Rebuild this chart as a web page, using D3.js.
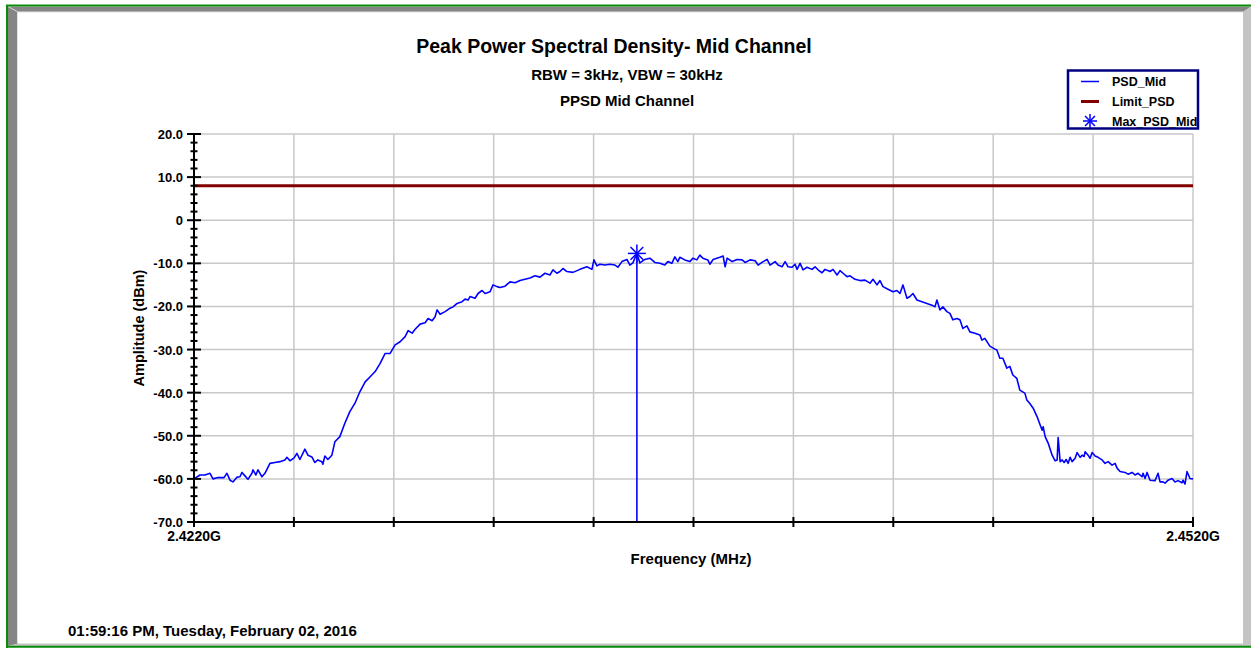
<!DOCTYPE html>
<html><head><meta charset="utf-8">
<script src="https://cdn.jsdelivr.net/npm/d3@7"></script>
<style>
body{margin:0;background:#fff;overflow:hidden;}
svg{display:block;}
text{font-family:"Liberation Sans",Arial,sans-serif;font-weight:bold;fill:#000;}
</style>
</head><body>
<svg id="chart" width="1251" height="648"></svg>
<script>
// ---------- DATA ----------
const chartTitle = "Peak Power Spectral Density- Mid Channel";
const subTitle1 = "RBW = 3kHz, VBW = 30kHz";
const subTitle2 = "PPSD Mid Channel";
const xAxisTitle = "Frequency (MHz)";
const yAxisTitle = "Amplitude (dBm)";
const timestamp = "01:59:16 PM, Tuesday, February 02, 2016";

const freqMHz = [
2422.00,2422.18,2422.33,2422.48,2422.57,2422.72,2422.90,2422.99,2423.08,2423.17,
2423.29,2423.38,2423.44,2423.53,2423.62,2423.74,2423.77,2423.86,2423.92,2424.04,
2424.13,2424.28,2424.43,2424.58,2424.73,2424.79,2424.88,2425.00,2425.09,2425.18,
2425.33,2425.42,2425.54,2425.63,2425.72,2425.84,2425.87,2425.93,2426.02,2426.14,
2426.23,2426.38,2426.53,2426.68,2426.83,2426.98,2427.14,2427.29,2427.44,2427.59,
2427.74,2427.89,2428.04,2428.19,2428.34,2428.43,2428.55,2428.64,2428.79,2428.94,
2429.03,2429.15,2429.24,2429.30,2429.39,2429.54,2429.69,2429.78,2429.90,2430.05,
2430.14,2430.23,2430.29,2430.44,2430.53,2430.65,2430.74,2430.89,2430.98,2431.10,
2431.19,2431.34,2431.49,2431.64,2431.79,2431.94,2432.09,2432.24,2432.39,2432.54,
2432.69,2432.78,2432.90,2432.99,2433.08,2433.20,2433.38,2433.59,2433.80,2433.95,
2434.01,2434.10,2434.19,2434.34,2434.49,2434.64,2434.73,2434.85,2435.00,2435.09,
2435.18,2435.30,2435.39,2435.54,2435.69,2435.84,2435.99,2436.14,2436.23,2436.35,
2436.44,2436.53,2436.59,2436.74,2436.89,2436.98,2437.10,2437.19,2437.28,2437.43,
2437.49,2437.59,2437.79,2437.89,2437.95,2438.01,2438.16,2438.31,2438.46,2438.55,
2438.70,2438.85,2438.94,2439.09,2439.21,2439.30,2439.45,2439.54,2439.66,2439.75,
2439.84,2439.96,2440.05,2440.11,2440.20,2440.29,2440.41,2440.56,2440.65,2440.74,
2440.86,2440.95,2441.10,2441.19,2441.31,2441.40,2441.49,2441.61,2441.70,2441.85,
2442.00,2442.15,2442.30,2442.39,2442.51,2442.60,2442.69,2442.84,2442.99,2443.11,
2443.20,2443.29,2443.41,2443.50,2443.59,2443.71,2443.86,2444.01,2444.16,2444.25,
2444.31,2444.40,2444.49,2444.61,2444.70,2444.79,2444.91,2445.00,2445.09,2445.21,
2445.30,2445.45,2445.60,2445.66,2445.75,2445.90,2446.05,2446.11,2446.20,2446.29,
2446.41,2446.50,2446.59,2446.71,2446.80,2446.95,2447.01,2447.10,2447.20,2447.32,
2447.41,2447.47,2447.50,2447.56,2447.65,2447.77,2447.86,2447.92,2447.95,2448.01,
2448.07,2448.13,2448.19,2448.25,2448.31,2448.37,2448.46,2448.52,2448.61,2448.67,
2448.73,2448.76,2448.85,2448.91,2448.97,2449.06,2449.15,2449.27,2449.36,2449.45,
2449.57,2449.66,2449.72,2449.81,2449.96,2450.05,2450.17,2450.26,2450.35,2450.47,
2450.50,2450.56,2450.62,2450.71,2450.86,2450.95,2451.01,2451.10,2451.16,2451.25,
2451.37,2451.46,2451.55,2451.67,2451.70,2451.76,2451.82,2451.91,2452.00
];
const psdMid = [
-60.0,-59.1,-59.1,-58.7,-60.0,-59.7,-59.7,-58.7,-60.3,-60.7,
-59.6,-59.5,-58.5,-59.3,-60.1,-58.7,-57.9,-59.1,-57.9,-59.5,
-58.7,-56.4,-56.2,-56.0,-55.6,-55.0,-55.8,-55.2,-54.1,-55.5,
-53.1,-54.5,-54.9,-56.2,-55.6,-56.0,-56.6,-54.7,-55.5,-54.5,
-51.4,-50.2,-47.1,-44.4,-42.5,-39.8,-37.5,-36.3,-35.1,-33.2,
-30.9,-30.9,-28.9,-28.2,-27.0,-25.6,-26.2,-25.3,-24.1,-23.8,
-22.8,-23.3,-22.4,-20.8,-21.8,-21.2,-20.4,-20.1,-19.3,-18.9,
-18.3,-18.5,-17.7,-18.1,-17.0,-16.3,-17.0,-16.6,-15.0,-15.4,
-15.6,-15.3,-14.3,-14.5,-14.0,-13.7,-13.4,-12.9,-13.2,-12.3,
-12.7,-11.5,-12.3,-11.9,-11.2,-11.9,-12.1,-11.4,-10.8,-11.4,
-9.2,-10.6,-10.2,-10.4,-10.2,-10.4,-10.9,-9.6,-9.1,-10.4,
-9.9,-7.7,-9.9,-9.1,-8.8,-9.8,-10.0,-10.4,-9.6,-10.0,
-8.5,-9.6,-8.6,-9.2,-9.6,-8.8,-9.2,-8.1,-8.8,-9.2,
-10.2,-9.1,-8.6,-8.3,-10.8,-8.8,-9.6,-9.1,-9.2,-9.8,
-9.2,-9.4,-10.4,-9.6,-9.1,-10.4,-9.6,-10.4,-10.8,-9.6,
-10.8,-10.9,-10.2,-11.4,-10.0,-11.5,-10.9,-11.4,-10.8,-11.5,
-12.2,-11.4,-11.9,-11.4,-12.7,-11.7,-12.3,-13.1,-12.9,-13.7,
-14.0,-13.9,-14.6,-13.7,-15.0,-14.0,-15.4,-16.0,-16.6,-16.3,
-17.0,-15.0,-18.1,-17.7,-17.0,-18.5,-18.9,-19.3,-19.7,-20.1,
-18.5,-20.8,-20.1,-21.2,-21.6,-23.1,-22.8,-23.1,-25.1,-24.5,
-25.9,-26.2,-26.6,-27.8,-27.4,-29.2,-29.9,-30.1,-32.0,-32.0,
-34.3,-33.9,-35.9,-36.7,-39.4,-40.1,-41.7,-42.5,-43.6,-45.6,
-47.5,-48.7,-47.9,-50.2,-51.7,-54.5,-55.8,-55.6,-50.4,-56.0,
-55.6,-56.2,-55.5,-56.4,-55.0,-56.0,-55.2,-53.9,-55.0,-54.5,
-54.8,-53.7,-54.5,-55.2,-53.9,-54.7,-55.0,-55.6,-56.4,-56.0,
-56.8,-56.4,-57.5,-58.3,-58.5,-58.9,-58.5,-59.1,-58.7,-59.5,
-58.7,-59.9,-58.5,-60.3,-60.4,-58.7,-60.7,-60.7,-61.0,-60.3,
-59.9,-60.7,-60.4,-60.9,-60.3,-61.2,-58.3,-59.9,-60.0
];
const limitPSD = 8.0;
const maxPSDFreq = 2435.30;
const maxPSDValue = -7.7;

const xDomain = [2422, 2452];
const yDomain = [-70, 20];
const xMajorTicks = [2422,2425,2428,2431,2434,2437,2440,2443,2446,2449,2452];
const xTickLabels = {2422:"2.4220G", 2452:"2.4520G"};
const yMajorTicks = [-70,-60,-50,-40,-30,-20,-10,0,10,20];
const yTickLabels = ["-70.0","-60.0","-50.0","-40.0","-30.0","-20.0","-10.0","0","10.0","20.0"];
const yMinorStep = 2;

const legendNames = ["PSD_Mid","Limit_PSD","Max_PSD_Mid"];

// ---------- DRAW ----------
const svg = d3.select("#chart");
const W = 1251, H = 648;
const plot = {left:194, right:1193, top:134, bottom:522};

// frame / bevel
svg.append("rect").attr("x",0).attr("y",0).attr("width",W).attr("height",H).attr("fill","#fff");
svg.append("polygon").attr("points",`8,6.5 1251,6.5 1243,12 18,12 18,644 8,646`).attr("fill","#858585");
svg.append("polygon").attr("points",`1243,12 1251,6.5 1251,646 8,646 18,643.5 1243,643.5`).attr("fill","#c4c4c4");
svg.append("line").attr("x1",8).attr("y1",6.5).attr("x2",18).attr("y2",12).attr("stroke","#d8d8d8").attr("stroke-width",1);
svg.append("line").attr("x1",17.5).attr("y1",12).attr("x2",17.5).attr("y2",643.5).attr("stroke","#e0e0e0").attr("stroke-width",1);
svg.append("line").attr("x1",18).attr("y1",12).attr("x2",1243).attr("y2",12).attr("stroke","#e0e0e0").attr("stroke-width",1);
svg.append("path").attr("d",`M7,650 L7,5.5 L1255,5.5 M7,646.8 L1255,646.8`).attr("fill","none").attr("stroke","#0a8a0a").attr("stroke-width",2);

const x = d3.scaleLinear().domain(xDomain).range([plot.left, plot.right]);
const y = d3.scaleLinear().domain(yDomain).range([plot.bottom, plot.top]);

// grid
const grid = svg.append("g").attr("stroke","#c8c8c8").attr("stroke-width",1.5);
xMajorTicks.filter(t=>t!==xDomain[0]).forEach(t=>{
  grid.append("line").attr("x1",x(t)).attr("x2",x(t)).attr("y1",y(yDomain[0])).attr("y2",y(yDomain[1]));
});
yMajorTicks.filter(t=>t!==yDomain[0]).forEach(t=>{
  grid.append("line").attr("x1",x(xDomain[0])).attr("x2",x(xDomain[1])).attr("y1",y(t)).attr("y2",y(t));
});

// limit line
svg.append("line").attr("x1",x(xDomain[0])).attr("x2",x(xDomain[1]))
  .attr("y1",y(limitPSD)).attr("y2",y(limitPSD))
  .attr("stroke","#800000").attr("stroke-width",3);

// PSD trace
const pts = freqMHz.map((f,i)=>[f, psdMid[i]]);
svg.append("path").datum(pts)
  .attr("d", d3.line().x(d=>x(d[0])).y(d=>y(d[1])))
  .attr("fill","none").attr("stroke","#0000ff").attr("stroke-width",1.6).attr("stroke-linejoin","round");

// max marker stick + asterisk
svg.append("line").attr("x1",x(maxPSDFreq)).attr("x2",x(maxPSDFreq))
  .attr("y1",y(yDomain[0])).attr("y2",y(maxPSDValue))
  .attr("stroke","#0000ff").attr("stroke-width",1.6);
function asterisk(g, cx, cy, r){
  for(let k=0;k<4;k++){
    const a = k*Math.PI/4;
    g.append("line").attr("x1",cx-r*Math.cos(a)).attr("y1",cy-r*Math.sin(a))
     .attr("x2",cx+r*Math.cos(a)).attr("y2",cy+r*Math.sin(a))
     .attr("stroke","#0000ff").attr("stroke-width",1.5);
  }
}
asterisk(svg, x(maxPSDFreq), y(maxPSDValue), 9);

// axes
const ax = svg.append("g").attr("stroke","#000");
ax.append("line").attr("x1",plot.left).attr("x2",plot.left).attr("y1",plot.top).attr("y2",plot.bottom+3).attr("stroke-width",2);
ax.append("line").attr("x1",plot.left).attr("x2",plot.right).attr("y1",plot.bottom).attr("y2",plot.bottom).attr("stroke-width",2);
d3.range(yDomain[0], yDomain[1]+0.001, yMinorStep).forEach(v=>{
  const major = yMajorTicks.includes(v);
  ax.append("line").attr("x1",plot.left-(major?7:3.5)).attr("x2",plot.left+(major?7:3.5))
    .attr("y1",y(v)).attr("y2",y(v)).attr("stroke-width",2);
});
xMajorTicks.forEach(t=>{
  ax.append("line").attr("x1",x(t)).attr("x2",x(t)).attr("y1",plot.bottom-5).attr("y2",plot.bottom+5).attr("stroke-width",2);
});

// tick labels
yMajorTicks.forEach((t,i)=>{
  svg.append("text").attr("x",plot.left-11).attr("y",y(t)+5).attr("text-anchor","end")
    .attr("font-size",13).text(yTickLabels[i]);
});
Object.keys(xTickLabels).forEach(k=>{
  svg.append("text").attr("x",x(+k)).attr("y",541).attr("text-anchor","middle")
    .attr("font-size",14).text(xTickLabels[k]);
});

// titles
svg.append("text").attr("x",614).attr("y",53).attr("text-anchor","middle").attr("font-size",19.5).text(chartTitle);
svg.append("text").attr("x",627).attr("y",79.5).attr("text-anchor","middle").attr("font-size",15).text(subTitle1);
svg.append("text").attr("x",627).attr("y",105.5).attr("text-anchor","middle").attr("font-size",15).text(subTitle2);
svg.append("text").attr("x",691).attr("y",563.5).attr("text-anchor","middle").attr("font-size",15).text(xAxisTitle);
svg.append("text").attr("transform","translate(143.5,328) rotate(-90)").attr("text-anchor","middle").attr("font-size",14.5).text(yAxisTitle);
svg.append("text").attr("x",68).attr("y",635.5).attr("font-size",15).text(timestamp);

// legend
const lg = svg.append("g");
lg.append("rect").attr("x",1068).attr("y",70.5).attr("width",130).attr("height",58).attr("fill","#fff").attr("stroke","#000080").attr("stroke-width",2.5);
const ly = [81.5, 101.5, 121];
lg.append("line").attr("x1",1081).attr("x2",1099).attr("y1",ly[0]).attr("y2",ly[0]).attr("stroke","#0000ff").attr("stroke-width",1.5);
lg.append("line").attr("x1",1081).attr("x2",1099).attr("y1",ly[1]).attr("y2",ly[1]).attr("stroke","#800000").attr("stroke-width",3);
asterisk(lg, 1090, ly[2], 7);
legendNames.forEach((n,i)=>{
  lg.append("text").attr("x",1112).attr("y",ly[i]+4.5).attr("font-size",12.5).text(n);
});
</script>
</body></html>
